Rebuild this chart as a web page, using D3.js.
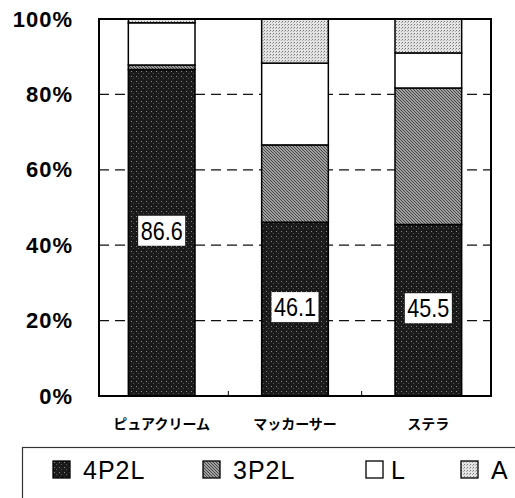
<!DOCTYPE html>
<html>
<head>
<meta charset="utf-8">
<script src="https://cdn.jsdelivr.net/npm/d3@7"></script>
<style>
  body { margin: 0; background: #fff; }
  svg { display: block; }
</style>
</head>
<body>
<div id="chart"></div>
<script>
// data
const categories = ["ピュアクリーム", "マッカーサー", "ステラ"];
const seriesNames = ["4P2L", "3P2L", "L", "A"];
const v4P2L = [86.6, 46.1, 45.5];
const v3P2L = [1.2, 20.5, 36.2];
const vL = [11.2, 21.7, 9.3];
const vA = [1.0, 11.7, 9.0];
const yTicks = [0, 20, 40, 60, 80, 100];

const width = 515, height = 498;
const plot = {left: 99, right: 491, top: 19, bottom: 396};

const svg = d3.select("#chart").append("svg")
    .attr("width", width)
    .attr("height", height);

// patterns to imitate the printed screens
const defs = svg.append("defs");

const pDark = defs.append("pattern")
    .attr("id", "pDark").attr("patternUnits", "userSpaceOnUse")
    .attr("width", 5).attr("height", 5);
pDark.append("rect").attr("width", 5).attr("height", 5).attr("fill", "#1a1a1a");
pDark.append("rect").attr("x", 1).attr("y", 1).attr("width", 1).attr("height", 1).attr("fill", "#8a8a8a");
pDark.append("rect").attr("x", 3).attr("y", 3).attr("width", 1).attr("height", 1).attr("fill", "#555");

const pMid = defs.append("pattern")
    .attr("id", "pMid").attr("patternUnits", "userSpaceOnUse")
    .attr("width", 3).attr("height", 3);
pMid.append("rect").attr("width", 3).attr("height", 3).attr("fill", "#a0a0a0");
pMid.append("path").attr("d", "M0,0 L3,3 M2,-1 L4,1 M-1,2 L1,4")
    .attr("stroke", "#444").attr("stroke-width", 1);

const pLight = defs.append("pattern")
    .attr("id", "pLight").attr("patternUnits", "userSpaceOnUse")
    .attr("width", 3).attr("height", 3);
pLight.append("rect").attr("width", 3).attr("height", 3).attr("fill", "#e4e4e4");
pLight.append("rect").attr("width", 1).attr("height", 1).attr("fill", "#777");
pLight.append("rect").attr("x", 2).attr("y", 1).attr("width", 1).attr("height", 1).attr("fill", "#aaa");

const fills = {"4P2L": "url(#pDark)", "3P2L": "url(#pMid)", "L": "#fff", "A": "url(#pLight)"};

// table for the stack
const table = categories.map((c, i) => ({
  cat: c, "4P2L": v4P2L[i], "3P2L": v3P2L[i], "L": vL[i], "A": vA[i]
}));
const stacked = d3.stack().keys(seriesNames)(table);

const xScale = d3.scaleBand()
    .domain(categories)
    .range([plot.left, plot.right])
    .paddingInner(0.5)
    .paddingOuter(0.22);

const yScale = d3.scaleLinear()
    .domain([0, 100])
    .range([plot.bottom, plot.top]);

// dashed gridlines
svg.append("g")
  .selectAll("line")
  .data(yTicks.filter(d => d > 0 && d < 100))
  .join("line")
    .attr("x1", plot.left).attr("x2", plot.right)
    .attr("y1", d => yScale(d)).attr("y2", d => yScale(d))
    .attr("stroke", "#111")
    .attr("stroke-width", 1.3)
    .attr("stroke-dasharray", "10,6");

// bars
svg.append("g")
  .selectAll("g")
  .data(stacked)
  .join("g")
    .attr("fill", d => fills[d.key])
  .selectAll("rect")
  .data(d => d)
  .join("rect")
    .attr("x", d => xScale(d.data.cat))
    .attr("y", d => yScale(d[1]))
    .attr("width", xScale.bandwidth())
    .attr("height", d => yScale(d[0]) - yScale(d[1]))
    .attr("stroke", "#000")
    .attr("stroke-width", 1.5);

// value labels for 4P2L
const labels = svg.append("g")
  .selectAll("g")
  .data(stacked[0])
  .join("g")
    .attr("transform", d => `translate(${xScale(d.data.cat) + xScale.bandwidth() / 2},${yScale(d[1] / 2) - 2})`);
labels.append("rect")
    .attr("x", -23.5).attr("y", -15)
    .attr("width", 47).attr("height", 30)
    .attr("fill", "#fff");
labels.append("text")
    .attr("text-anchor", "middle")
    .attr("y", 9)
    .attr("font-family", "Liberation Sans, Arial, sans-serif")
    .attr("font-size", 25)
    .attr("textLength", 42)
    .attr("lengthAdjust", "spacingAndGlyphs")
    .attr("fill", "#000")
    .text(d => d.data[seriesNames[0]].toFixed(1));

// frame
svg.append("rect")
    .attr("x", plot.left).attr("y", plot.top)
    .attr("width", plot.right - plot.left)
    .attr("height", plot.bottom - plot.top)
    .attr("fill", "none")
    .attr("stroke", "#000")
    .attr("stroke-width", 2);

// y axis
const yAxis = d3.axisLeft(yScale)
    .tickValues(yTicks)
    .tickSize(0)
    .tickPadding(26)
    .tickFormat(d => d + "%");
svg.append("g")
    .attr("transform", `translate(${plot.left},0)`)
    .call(yAxis)
    .call(g => g.select(".domain").remove())
    .selectAll("text")
    .attr("font-family", "Liberation Sans, Arial, sans-serif")
    .attr("font-weight", "bold")
    .attr("font-size", 22)
    .attr("letter-spacing", 1)
    .attr("fill", "#000");

// x axis (small inner ticks at the band boundaries)
const xAxis = d3.axisBottom(xScale).tickSize(0).tickPadding(23);
svg.append("g")
    .attr("transform", `translate(0,${plot.bottom})`)
    .call(xAxis)
    .call(g => g.select(".domain").remove())
    .selectAll("text")
    .attr("font-family", "Noto Sans CJK JP, sans-serif")
    .attr("font-weight", "bold")
    .attr("font-size", 14)
    .attr("fill", "#000");

svg.append("g")
  .selectAll("line")
  .data(categories.slice(1))
  .join("line")
    .attr("x1", d => xScale(d) - xScale.step() * xScale.paddingInner() / 2)
    .attr("x2", d => xScale(d) - xScale.step() * xScale.paddingInner() / 2)
    .attr("y1", plot.bottom).attr("y2", plot.bottom - 5)
    .attr("stroke", "#000")
    .attr("stroke-width", 1);

// legend box, runs off the right and bottom edges
svg.append("rect")
    .attr("x", 22.5).attr("y", 447.5)
    .attr("width", 520).attr("height", 80)
    .attr("fill", "#fff")
    .attr("stroke", "#333")
    .attr("stroke-width", 1.2);

const legendX = [53, 203, 366, 461];
const legend = svg.append("g")
  .selectAll("g")
  .data(seriesNames)
  .join("g")
    .attr("transform", (d, i) => `translate(${legendX[i]},461)`);
legend.append("rect")
    .attr("width", 17).attr("height", 17)
    .attr("fill", d => fills[d])
    .attr("stroke", "#000")
    .attr("stroke-width", 1.3);
legend.append("text")
    .attr("x", (d, i) => i === 2 ? 25 : 30)
    .attr("y", 18)
    .attr("font-family", "Liberation Sans, Arial, sans-serif")
    .attr("font-size", 25)
    .attr("letter-spacing", 1)
    .attr("fill", "#000")
    .text(d => d);
</script>
</body>
</html>
